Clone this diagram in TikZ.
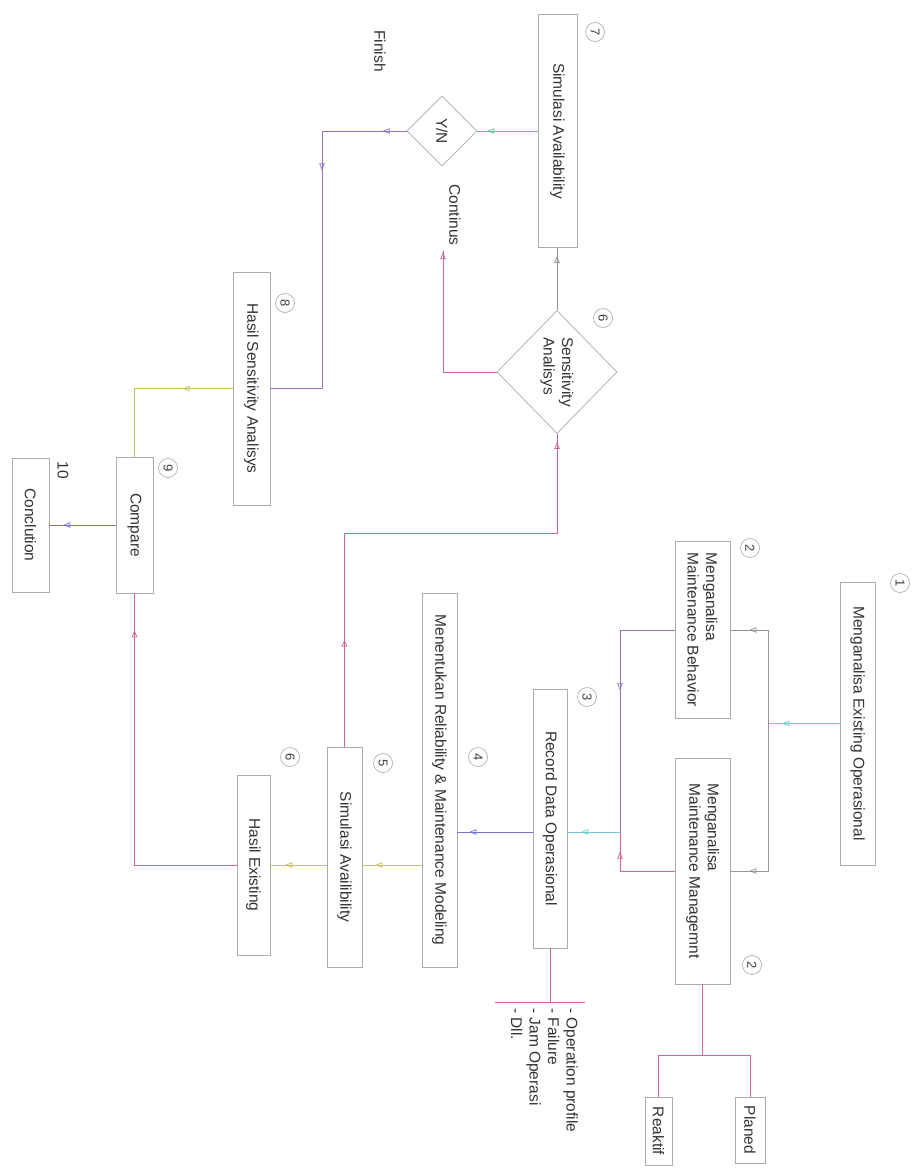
\documentclass[tikz,border=0pt]{standalone}
\usepackage{fontspec}
\setmainfont{Liberation Sans}
\usetikzlibrary{arrows.meta,shapes.geometric,decorations.markings}
\definecolor{lcyan}{RGB}{110,200,215}
\definecolor{lmag}{RGB}{205,100,155}
\definecolor{lblue}{RGB}{115,115,205}
\definecolor{lyel}{RGB}{195,195,95}
\definecolor{lgray}{RGB}{150,150,150}
\definecolor{lpur}{RGB}{150,115,190}
\definecolor{lteal}{RGB}{100,190,160}
\begin{document}
\begin{tikzpicture}[x=1pt,y=-1pt,
  txt/.style={font=\fontsize{15.5}{18.5}\selectfont, text=black!80},
  box/.style={txt, draw=gray!65, line width=0.7pt, rotate=-90, inner sep=2pt, align=left},
  dia/.style={txt, draw=gray!65, line width=0.7pt, diamond, aspect=1, rotate=-90, inner sep=0pt, align=left},
  numc/.style={circle, draw=gray!70, line width=0.6pt, minimum size=19pt, inner sep=0pt, rotate=-90, font=\fontsize{13}{15}\selectfont, text=black!75},
  lbl/.style={txt, rotate=-90, inner sep=0pt},
  ln/.style={line width=0.7pt},
  arr/.style={postaction={decorate,decoration={markings,mark=at position #1 with {\arrow{Triangle[open,length=7pt,width=5.5pt]}}}}},
]
\fill[white] (0,0) rectangle (921,1170);
\useasboundingbox (0,0) rectangle (921,1170);

% boxes
\node[box, minimum width=283pt, minimum height=35pt] (b1) at (857.5,723.5) {Menganalisa Existing Operasional};
\node[box, minimum width=177pt, minimum height=55pt] (b2a) at (702.5,630) {Menganalisa\\Maintenance Behavior};
\node[box, minimum width=226pt, minimum height=55pt] (b2b) at (702.5,871) {Menganalisa\\Maintenance Managemnt};
\node[box, minimum width=259pt, minimum height=34pt] (b3) at (550,818.5) {Record Data Operasional};
\node[box, minimum width=374pt, minimum height=35pt] (b4) at (439.5,780) {Menentukan Reliability \& Maintenance Modeling};
\node[box, minimum width=220pt, minimum height=35pt] (b5) at (344.5,857) {Simulasi Availibility};
\node[box, minimum width=180pt, minimum height=33pt] (b6) at (253.5,865) {Hasil Existing};
\node[box, minimum width=233pt, minimum height=39pt] (b7) at (557.5,131) {Simulasi Availability};
\node[dia, minimum width=70pt, minimum height=70pt] (yn) at (442,131) {Y/N};
\node[dia, minimum width=123pt, minimum height=120pt] (d6) at (557,372) {Sensitivity\\Analisys};
\node[box, minimum width=233pt, minimum height=37pt] (b8) at (251.5,388.5) {Hasil Sensitivity Analisys};
\node[box, minimum width=136pt, minimum height=37pt] (b9) at (134.5,525) {Compare};
\node[box, minimum width=134pt, minimum height=37pt] (b10) at (30.5,525) {Conclution};
\node[box, minimum width=68pt, minimum height=27pt] (re) at (658.5,1131) {Reaktif};
\node[box, minimum width=66pt, minimum height=30pt] (pl) at (750,1130) {Planed};

% labels
\node[lbl] (fin) at (380,51) {Finish};
\node[lbl] (cont) at (455,215) {Continus};
\node[lbl] (ten) at (63,470) {10};
\node[lbl, align=left, anchor=north west] (lst) at (578,1008) {- Operation profile\\- Failure\\- Jam Operasi\\- Dll.};

% numbers
\node[numc] (n1) at (900,583) {1};
\node[numc] (n2a) at (750,548) {2};
\node[numc] (n2b) at (752,965) {2};
\node[numc] (n3) at (587,697) {3};
\node[numc] (n4) at (478,757) {4};
\node[numc] (n5) at (383,763) {5};
\node[numc] (n6) at (290,757) {6};
\node[numc] (n6d) at (603,318) {6};
\node[numc] (n7) at (595,32) {7};
\node[numc] (n8) at (285,303) {8};
\node[numc] (n9) at (168,468) {9};

% connectors
\coordinate (j1) at (768,723.5);
\draw[ln, lcyan, arr=0.8] (b1.south) -- (j1);
\draw[ln, lgray, arr=-19pt] (j1) |- (b2a.north);
\draw[ln, lgray, arr=-19pt] (j1) |- (b2b.north);

\coordinate (j3) at (620,832);
\draw[ln, lpur, arr=115pt] (b2a.south) -| (j3);
\draw[ln, lmag, arr=74pt] (b2b.south) -| (j3);
\draw[ln, lcyan, arr=-14pt] (j3) -- (j3 -| b3.north);
\draw[ln, lblue, arr=-12pt] (b3.south |- j3) -- (b4.north |- j3);

\coordinate (y5) at (0,865);
\draw[ln, lyel, arr=-13pt] (b4.south |- y5) -- (b5.north |- y5);
\draw[ln, lyel, arr=-15pt] (b5.south |- y5) -- (b6.north);
\draw[ln, lmag, arr=-37pt] (b6.south) -| (b9.east);

\coordinate (k5) at (557,533);
\draw[ln, lmag, arr=107pt, arr=-8pt] (b5.west) |- (k5) -- (d6.east);
\draw[ln, lgray, arr=-8pt] (d6.west) -- (d6.west |- b7.east);
\coordinate (ct) at (443,251);
\draw[ln, lmag, arr=-1pt] (d6.south) -| (ct);
\draw[ln, lteal, arr=-10pt] (b7.south) -- (yn.north);

\coordinate (k8) at (322,131);
\draw[ln, lpur, arr=24pt, arr=124pt] (yn.south) -- (k8) |- (b8.north);
\draw[ln, lyel, arr=50pt] (b8.south) -| (b9.west);
\draw[ln, lblue, arr=-14pt] (b9.south) -- (b10.north);

\coordinate (lt) at (550,1002);
\coordinate (lta) at (495,1002);
\coordinate (ltb) at (585,1002);
\draw[ln, lmag] (b3.east) -- (lt);
\draw[ln, lmag] (lta) -- (ltb);

\coordinate (br) at (702.5,1055);
\draw[ln, lmag] (b2b.east) -- (br);
\draw[ln, lmag] (re.west) |- (br) -| (pl.west);
\end{tikzpicture}
\end{document}
